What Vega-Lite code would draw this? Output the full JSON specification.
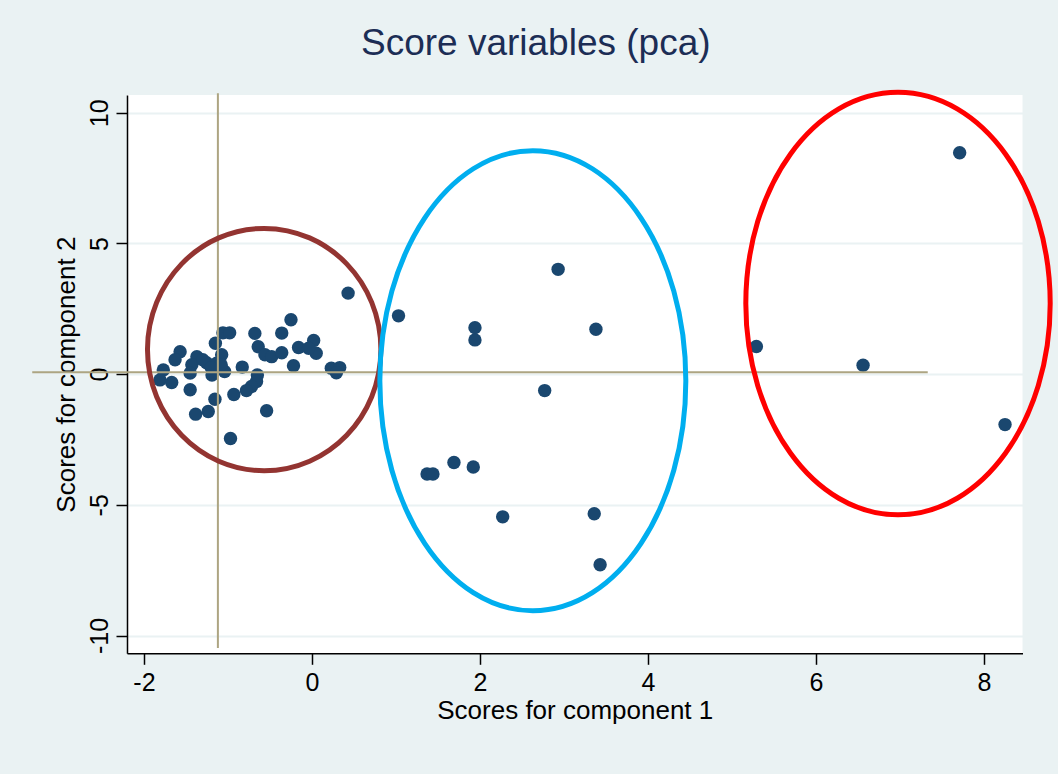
{
  "$schema": "https://vega.github.io/schema/vega-lite/v6.json",
  "width": 895.5,
  "height": 558.3,
  "autosize": {"type": "none"},
  "padding": {"left": 127, "top": 95, "right": 35.5, "bottom": 120.7},
  "background": "#EAF2F3",
  "title": {
    "text": "Score variables (pca)",
    "font": "Liberation Sans",
    "fontSize": 37,
    "fontWeight": "normal",
    "color": "#1C2D55",
    "anchor": "middle",
    "frame": "group",
    "baseline": "alphabetic",
    "dx": -39,
    "offset": -10
  },
  "config": {
    "view": {"fill": "white", "stroke": null},
    "font": "Liberation Sans",
    "axis": {
      "domainColor": "black",
      "domainWidth": 1.5,
      "tickColor": "black",
      "tickWidth": 1.5,
      "tickSize": 11,
      "labelFont": "Liberation Sans",
      "labelFontSize": 25,
      "labelColor": "black",
      "labelExpr": "toString(datum.value)",
      "titleFont": "Liberation Sans",
      "titleFontSize": 26,
      "titleFontWeight": "normal",
      "titleColor": "black"
    }
  },
  "datasets": {
    "scores": [
      {"pc1": 0.43, "pc2": 3.10},
      {"pc1": -0.25, "pc2": 2.08},
      {"pc1": -0.68, "pc2": 1.56},
      {"pc1": -0.36, "pc2": 1.57},
      {"pc1": -1.06, "pc2": 1.58},
      {"pc1": -0.98, "pc2": 1.58},
      {"pc1": -1.15, "pc2": 1.18},
      {"pc1": -0.64, "pc2": 1.05},
      {"pc1": -0.56, "pc2": 0.74},
      {"pc1": -0.48, "pc2": 0.67},
      {"pc1": -0.36, "pc2": 0.82},
      {"pc1": -0.16, "pc2": 1.02},
      {"pc1": 0.02, "pc2": 1.29},
      {"pc1": 0.05, "pc2": 0.80},
      {"pc1": -0.04, "pc2": 0.99},
      {"pc1": -0.22, "pc2": 0.32},
      {"pc1": -0.83, "pc2": 0.27},
      {"pc1": 0.23, "pc2": 0.23},
      {"pc1": 0.33, "pc2": 0.25},
      {"pc1": 0.29, "pc2": 0.05},
      {"pc1": -0.65, "pc2": -0.03},
      {"pc1": -0.66, "pc2": -0.28},
      {"pc1": -0.72, "pc2": -0.47},
      {"pc1": -0.78, "pc2": -0.63},
      {"pc1": -0.93, "pc2": -0.78},
      {"pc1": -0.54, "pc2": -1.40},
      {"pc1": -0.97, "pc2": -2.46},
      {"pc1": -1.57, "pc2": 0.86},
      {"pc1": -1.63, "pc2": 0.55},
      {"pc1": -1.37, "pc2": 0.67},
      {"pc1": -1.075, "pc2": 0.74},
      {"pc1": -1.255, "pc2": 0.44},
      {"pc1": -1.43, "pc2": 0.36},
      {"pc1": -1.45, "pc2": 0.04},
      {"pc1": -1.19, "pc2": -0.03},
      {"pc1": -1.04, "pc2": 0.10},
      {"pc1": -1.135, "pc2": 0.42},
      {"pc1": -1.77, "pc2": 0.16},
      {"pc1": -1.81, "pc2": -0.22},
      {"pc1": -1.67, "pc2": -0.32},
      {"pc1": -1.45, "pc2": -0.60},
      {"pc1": -1.155, "pc2": -0.96},
      {"pc1": -1.235, "pc2": -1.43},
      {"pc1": -1.385, "pc2": -1.53},
      {"pc1": -1.30, "pc2": 0.55},
      {"pc1": -1.08, "pc2": 0.35},
      {"pc1": -1.20, "pc2": 0.25},
      {"pc1": 1.03, "pc2": 2.23},
      {"pc1": 1.94, "pc2": 1.78},
      {"pc1": 1.94, "pc2": 1.31},
      {"pc1": 2.93, "pc2": 4.01},
      {"pc1": 3.38, "pc2": 1.72},
      {"pc1": 2.77, "pc2": -0.63},
      {"pc1": 1.37, "pc2": -3.82},
      {"pc1": 1.44, "pc2": -3.82},
      {"pc1": 1.69, "pc2": -3.38},
      {"pc1": 1.92, "pc2": -3.55},
      {"pc1": 2.27, "pc2": -5.46},
      {"pc1": 3.36, "pc2": -5.34},
      {"pc1": 3.43, "pc2": -7.29},
      {"pc1": 5.29, "pc2": 1.06},
      {"pc1": 6.56, "pc2": 0.34},
      {"pc1": 7.71, "pc2": 8.47},
      {"pc1": 8.25, "pc2": -1.93}
    ],
    "hline": [{"x": -3.33, "x2": 7.33, "y": 0.07}],
    "vline": [{"x": -1.12, "y": -10.48, "y2": 10.75}],
    "clusters": [
      {"cluster": "low", "cx": -0.569, "cy": 0.94},
      {"cluster": "mid", "cx": 2.629, "cy": -0.25},
      {"cluster": "high", "cx": 6.976, "cy": 2.70}
    ]
  },
  "layer": [
    {
      "data": {"name": "scores"},
      "mark": {"type": "point", "filled": true, "opacity": 1, "size": 180, "color": "#1A476F", "shape": "circle"},
      "encoding": {
        "x": {
          "field": "pc1", "type": "quantitative",
          "scale": {"domain": [-2.202, 8.458], "nice": false, "zero": false},
          "axis": {"values": [-2, 0, 2, 4, 6, 8], "grid": false, "title": "Scores for component 1", "labelPadding": 6, "titlePadding": 2}
        },
        "y": {
          "field": "pc2", "type": "quantitative",
          "scale": {"domain": [-10.68, 10.68], "nice": false, "zero": false},
          "axis": {
            "values": [-10, -5, 0, 5, 10],
            "grid": true, "gridColor": "#EAF2F3", "gridWidth": 2,
            "labelAngle": -90, "labelAlign": "center", "labelBaseline": "alphabetic", "labelPadding": 9,
            "title": "Scores for component 2", "titlePadding": 8
          }
        }
      }
    },
    {
      "data": {"name": "hline"},
      "mark": {"type": "rule", "color": "#ADA582", "strokeWidth": 2},
      "encoding": {
        "x": {"field": "x", "type": "quantitative"},
        "x2": {"field": "x2"},
        "y": {"field": "y", "type": "quantitative"}
      }
    },
    {
      "data": {"name": "vline"},
      "mark": {"type": "rule", "color": "#ADA582", "strokeWidth": 2},
      "encoding": {
        "x": {"field": "x", "type": "quantitative"},
        "y": {"field": "y", "type": "quantitative"},
        "y2": {"field": "y2"}
      }
    },
    {
      "data": {"name": "clusters"},
      "mark": {"type": "point", "filled": false, "size": 40000, "strokeWidth": 5, "opacity": 1},
      "encoding": {
        "x": {"field": "cx", "type": "quantitative"},
        "y": {"field": "cy", "type": "quantitative"},
        "shape": {
          "field": "cluster", "type": "nominal", "legend": null,
          "scale": {
            "domain": ["low", "mid", "high"],
            "range": [
              "M1.167,0C1.167,0.6694,0.6445,1.212,0,1.212C-0.6445,1.212,-1.167,0.6694,-1.167,0C-1.167,-0.6694,-0.6445,-1.212,0,-1.212C0.6445,-1.212,1.167,-0.6694,1.167,0Z",
              "M1.53,0C1.53,1.2703,0.845,2.3,0,2.3C-0.845,2.3,-1.53,1.2703,-1.53,0C-1.53,-1.2703,-0.845,-2.3,0,-2.3C0.845,-2.3,1.53,-1.2703,1.53,0Z",
              "M1.522,0C1.522,1.1667,0.8406,2.1125,0,2.1125C-0.8406,2.1125,-1.522,1.1667,-1.522,0C-1.522,-1.1667,-0.8406,-2.1125,0,-2.1125C0.8406,-2.1125,1.522,-1.1667,1.522,0Z"
            ]
          }
        },
        "stroke": {
          "field": "cluster", "type": "nominal", "legend": null,
          "scale": {"domain": ["low", "mid", "high"], "range": ["#933431", "#00AEEF", "#FF0000"]}
        }
      }
    }
  ]
}
